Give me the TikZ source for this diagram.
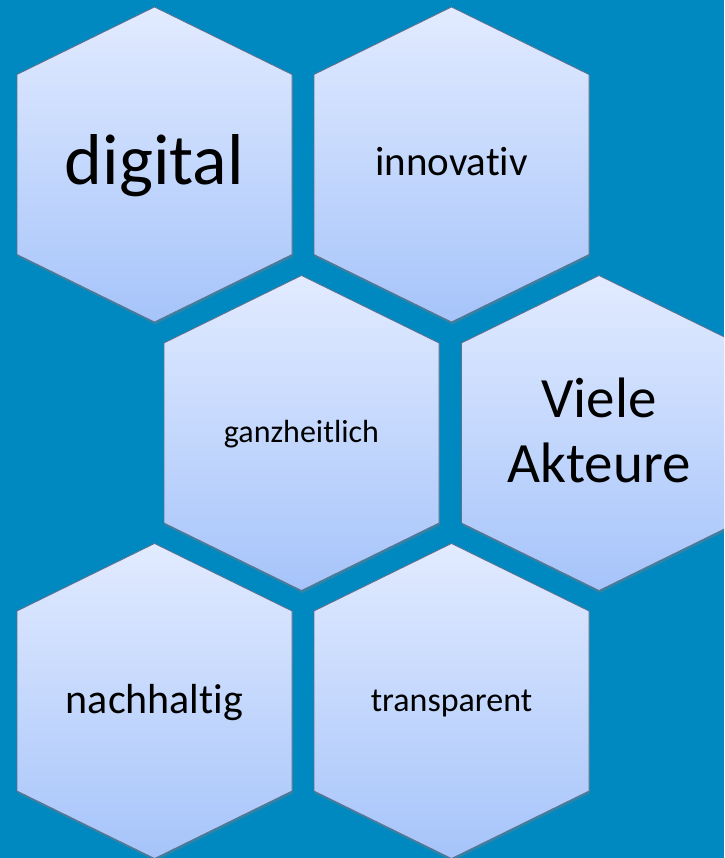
\documentclass[tikz,border=0pt]{standalone}
\usepackage{fontspec}
\setmainfont[Ligatures={NoCommon}]{Carlito}
\usetikzlibrary{shadows}

\begin{document}
\begin{tikzpicture}[x=1pt,y=-1pt]
% define styles
\definecolor{bgblue}{RGB}{0,136,192}
\definecolor{hextop}{RGB}{226,235,255}
\definecolor{hexbot}{RGB}{166,196,250}
\definecolor{hexline}{RGB}{96,112,140}
\tikzstyle{hexa}=[draw=hexline, line width=0.8pt, top color=hextop, bottom color=hexbot,
    drop shadow={opacity=0.35, shadow xshift=1pt, shadow yshift=-2.5pt}]
\tikzstyle{word}=[text=black, inner sep=0pt, anchor=base]
% background
\fill[bgblue] (0,0) rectangle (724,858);
\useasboundingbox (0,0) rectangle (724,858);
\clip (0,0) rectangle (724,858);
% hexagons
\foreach \cx/\cy in {154.5/164.5, 451.5/164.5, 301.5/433, 599/433, 154.5/701, 451.5/701}
  \draw[hexa] (\cx,\cy) ++(0,-157.5) -- ++(137.5,67.5) -- ++(0,180) -- ++(-137.5,67.5)
    -- ++(-137.5,-67.5) -- ++(0,-180) -- cycle;
% labels
\node[word, font=\fontsize{72}{86}\selectfont] (digital) at (154.5,185) {digital};
\node[word, font=\fontsize{41}{49}\selectfont] (innov) at (451.5,176) {innovativ};
\node[word, font=\fontsize{32}{38}\selectfont] (ganz) at (301.5,442) {ganzheitlich};
\node[word, anchor=center, align=center, font=\fontsize{57}{65}\selectfont] (akteure) at (599,430) {Viele\\Akteure};
\node[word, font=\fontsize{42}{50}\selectfont] (nach) at (154.5,713) {nachhaltig};
\node[word, font=\fontsize{34}{41}\selectfont] (transp) at (451.5,711) {transparent};
\end{tikzpicture}
\end{document}
